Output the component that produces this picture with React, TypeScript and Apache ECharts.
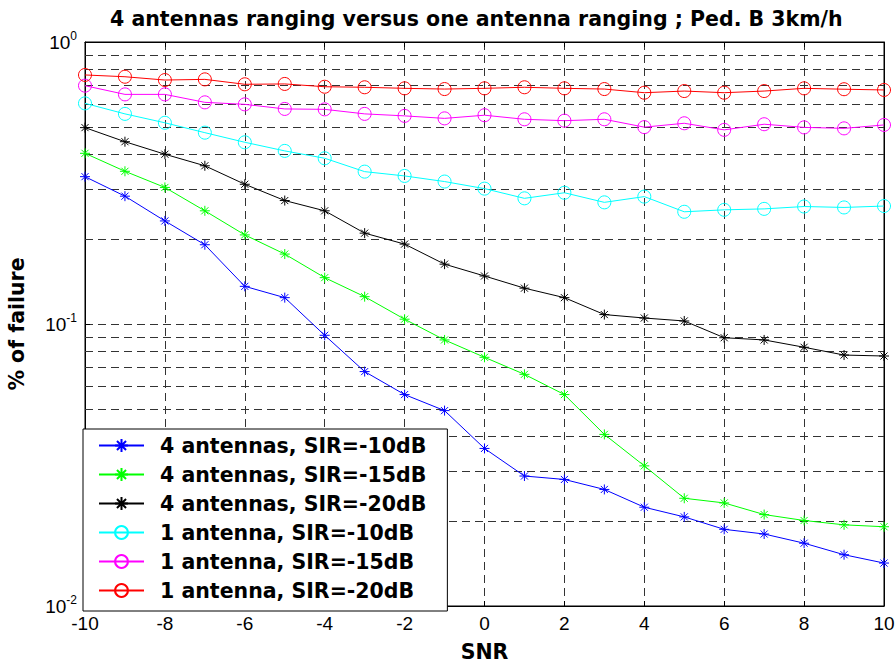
import React, { useEffect, useRef } from "react";
import * as echarts from "echarts";

const snr = [-10, -9, -8, -7, -6, -5, -4, -3, -2, -1, 0, 1, 2, 3, 4, 5, 6, 7, 8, 9, 10];

const ant4Sir10 = [0.333, 0.284, 0.232, 0.191, 0.136, 0.124, 0.0912, 0.0678, 0.0562, 0.0493, 0.0362, 0.0289, 0.0281, 0.0259, 0.0224, 0.0207, 0.0187, 0.018, 0.0167, 0.0152, 0.0142];
const ant4Sir15 = [0.403, 0.348, 0.305, 0.252, 0.207, 0.177, 0.146, 0.125, 0.104, 0.0878, 0.0762, 0.0663, 0.0562, 0.0406, 0.0314, 0.0241, 0.0232, 0.0211, 0.0201, 0.0194, 0.0191];
const ant4Sir20 = [0.497, 0.443, 0.4, 0.364, 0.313, 0.274, 0.252, 0.21, 0.192, 0.163, 0.148, 0.134, 0.124, 0.108, 0.105, 0.1025, 0.0894, 0.0878, 0.0827, 0.0776, 0.077];
const ant1Sir10 = [0.606, 0.556, 0.517, 0.477, 0.441, 0.411, 0.387, 0.347, 0.335, 0.32, 0.302, 0.279, 0.292, 0.27, 0.283, 0.25, 0.254, 0.256, 0.261, 0.259, 0.262];
const ant1Sir15 = [0.7, 0.652, 0.652, 0.611, 0.601, 0.579, 0.577, 0.556, 0.547, 0.536, 0.55, 0.532, 0.526, 0.532, 0.499, 0.515, 0.488, 0.511, 0.498, 0.494, 0.508];
const ant1Sir20 = [0.764, 0.753, 0.733, 0.737, 0.708, 0.71, 0.694, 0.691, 0.685, 0.681, 0.685, 0.691, 0.685, 0.681, 0.661, 0.67, 0.661, 0.67, 0.685, 0.68, 0.676];

const seriesNames = [
  "4 antennas, SIR=-10dB",
  "4 antennas, SIR=-15dB",
  "4 antennas, SIR=-20dB",
  "1 antenna, SIR=-10dB",
  "1 antenna, SIR=-15dB",
  "1 antenna, SIR=-20dB",
];
const seriesValues = [ant4Sir10, ant4Sir15, ant4Sir20, ant1Sir10, ant1Sir15, ant1Sir20];
const seriesColors = ["#0000ff", "#00ff00", "#000000", "#00ffff", "#ff00ff", "#ff0000"];
const seriesMarkers = ["star", "star", "star", "circle", "circle", "circle"];

const minorGridValues = [0.02, 0.03, 0.04, 0.05, 0.06, 0.07, 0.08, 0.09, 0.2, 0.3, 0.4, 0.5, 0.6, 0.7, 0.8, 0.9];

const titleText = "4 antennas ranging versus one antenna ranging ; Ped. B 3km/h";
const xName = "SNR";
const yName = "% of failure";

const STAR = "path://M5,0L5,10M0,5L10,5M1.46,1.46L8.54,8.54M1.46,8.54L8.54,1.46";
const BOLD_FONT = "DejaVu Sans";
const TICK_FONT = "Liberation Sans, Arial, sans-serif";
const GRID_DASH = { type: [8, 5] as any, color: "#333", width: 1 };

export default function App() {
  const ref = useRef<HTMLDivElement>(null);
  useEffect(() => {
    const chart = echarts.init(ref.current!, null, { renderer: "svg" });
    const series: any[] = seriesNames.map((name, i) => {
      const isStar = seriesMarkers[i] === "star";
      const s: any = {
        name,
        type: "line",
        xAxisIndex: 0,
        yAxisIndex: 0,
        data: snr.map((x, j) => [x, seriesValues[i][j]]),
        symbol: isStar ? STAR : "circle",
        symbolSize: isStar ? 10 : 13,
        showSymbol: true,
        lineStyle: { color: seriesColors[i], width: 1 },
        itemStyle: {
          color: isStar ? seriesColors[i] : "rgba(0,0,0,0)",
          borderColor: seriesColors[i],
          borderWidth: 1,
        },
        emphasis: { disabled: true },
        z: 3,
      };
      if (i === 0) {
        s.markLine = {
          silent: true,
          symbol: "none",
          label: { show: false },
          lineStyle: GRID_DASH,
          emphasis: { disabled: true },
          data: minorGridValues.map((v) => ({ yAxis: v })),
          z: 1,
        };
      }
      return s;
    });

    chart.setOption({
      animation: false,
      backgroundColor: "#ffffff",
      title: {
        text: titleText,
        left: 110,
        top: 8,
        padding: 0,
        textStyle: { fontFamily: BOLD_FONT, fontWeight: "bold", fontSize: 20.5, color: "#000" },
      },
      grid: {
        left: 85,
        right: 12,
        top: 42,
        bottom: 60,
        show: true,
        borderColor: "#000",
        borderWidth: 1,
        backgroundColor: "transparent",
        outerBoundsMode: "none",
      },
      legend: {
        orient: "vertical",
        left: 83,
        top: 429,
        padding: [6, 21, 10, 15],
        itemWidth: 45,
        itemHeight: 16,
        itemGap: 8,
        backgroundColor: "#ffffff",
        borderColor: "#000",
        borderWidth: 1,
        borderRadius: 0,
        selectedMode: false,
        data: seriesNames,
        textStyle: {
          fontFamily: BOLD_FONT,
          fontWeight: "bold",
          fontSize: 20.5,
          lineHeight: 20,
          color: "#000",
          padding: [0, 0, 0, 11],
        },
        z: 10,
      },
      xAxis: [
        {
          type: "value",
          min: -10,
          max: 10,
          interval: 2,
          position: "bottom",
          name: xName,
          nameLocation: "middle",
          nameGap: 35,
          nameTextStyle: { fontFamily: BOLD_FONT, fontWeight: "bold", fontSize: 20.5, color: "#000" },
          axisLine: { show: true, onZero: false, lineStyle: { color: "#000", width: 1 } },
          axisTick: { show: true, inside: true, length: 5, lineStyle: { color: "#000" } },
          axisLabel: { fontFamily: TICK_FONT, fontSize: 19, color: "#000", margin: 8 },
          splitLine: { show: true, lineStyle: GRID_DASH },
        },
        {
          type: "value",
          min: -10,
          max: 10,
          interval: 2,
          position: "top",
          axisLine: { show: true, onZero: false, lineStyle: { color: "#000", width: 1 } },
          axisTick: { show: true, inside: true, length: 5, lineStyle: { color: "#000" } },
          axisLabel: { show: false },
          splitLine: { show: false },
        },
      ],
      yAxis: [
        {
          type: "log",
          logBase: 10,
          min: 0.01,
          max: 1,
          position: "left",
          name: yName,
          nameLocation: "middle",
          nameRotate: 90,
          nameGap: 58,
          nameTextStyle: { fontFamily: BOLD_FONT, fontWeight: "bold", fontSize: 20.5, color: "#000" },
          axisLine: { show: true, onZero: false, lineStyle: { color: "#000", width: 1 } },
          axisTick: { show: true, inside: true, length: 5, lineStyle: { color: "#000" } },
          axisLabel: {
            margin: 8,
            formatter: (v: number) => "{b|10}{s|" + Math.round(Math.log10(v)) + "}",
            rich: {
              b: { fontFamily: TICK_FONT, fontSize: 19, lineHeight: 19, color: "#000" },
              s: { fontFamily: TICK_FONT, fontSize: 12, lineHeight: 12, padding: [0, 0, 12, 0], color: "#000" },
            },
          },
          splitLine: { show: true, lineStyle: GRID_DASH },
        },
        {
          type: "log",
          logBase: 10,
          min: 0.01,
          max: 1,
          position: "right",
          axisLine: { show: true, onZero: false, lineStyle: { color: "#000", width: 1 } },
          axisTick: { show: true, inside: true, length: 5, lineStyle: { color: "#000" } },
          axisLabel: { show: false },
          splitLine: { show: false },
        },
      ],
      series,
    });
    return () => chart.dispose();
  }, []);
  return <div ref={ref} style={{ position: "fixed", left: 0, top: 0, width: 896, height: 666 }} />;
}
